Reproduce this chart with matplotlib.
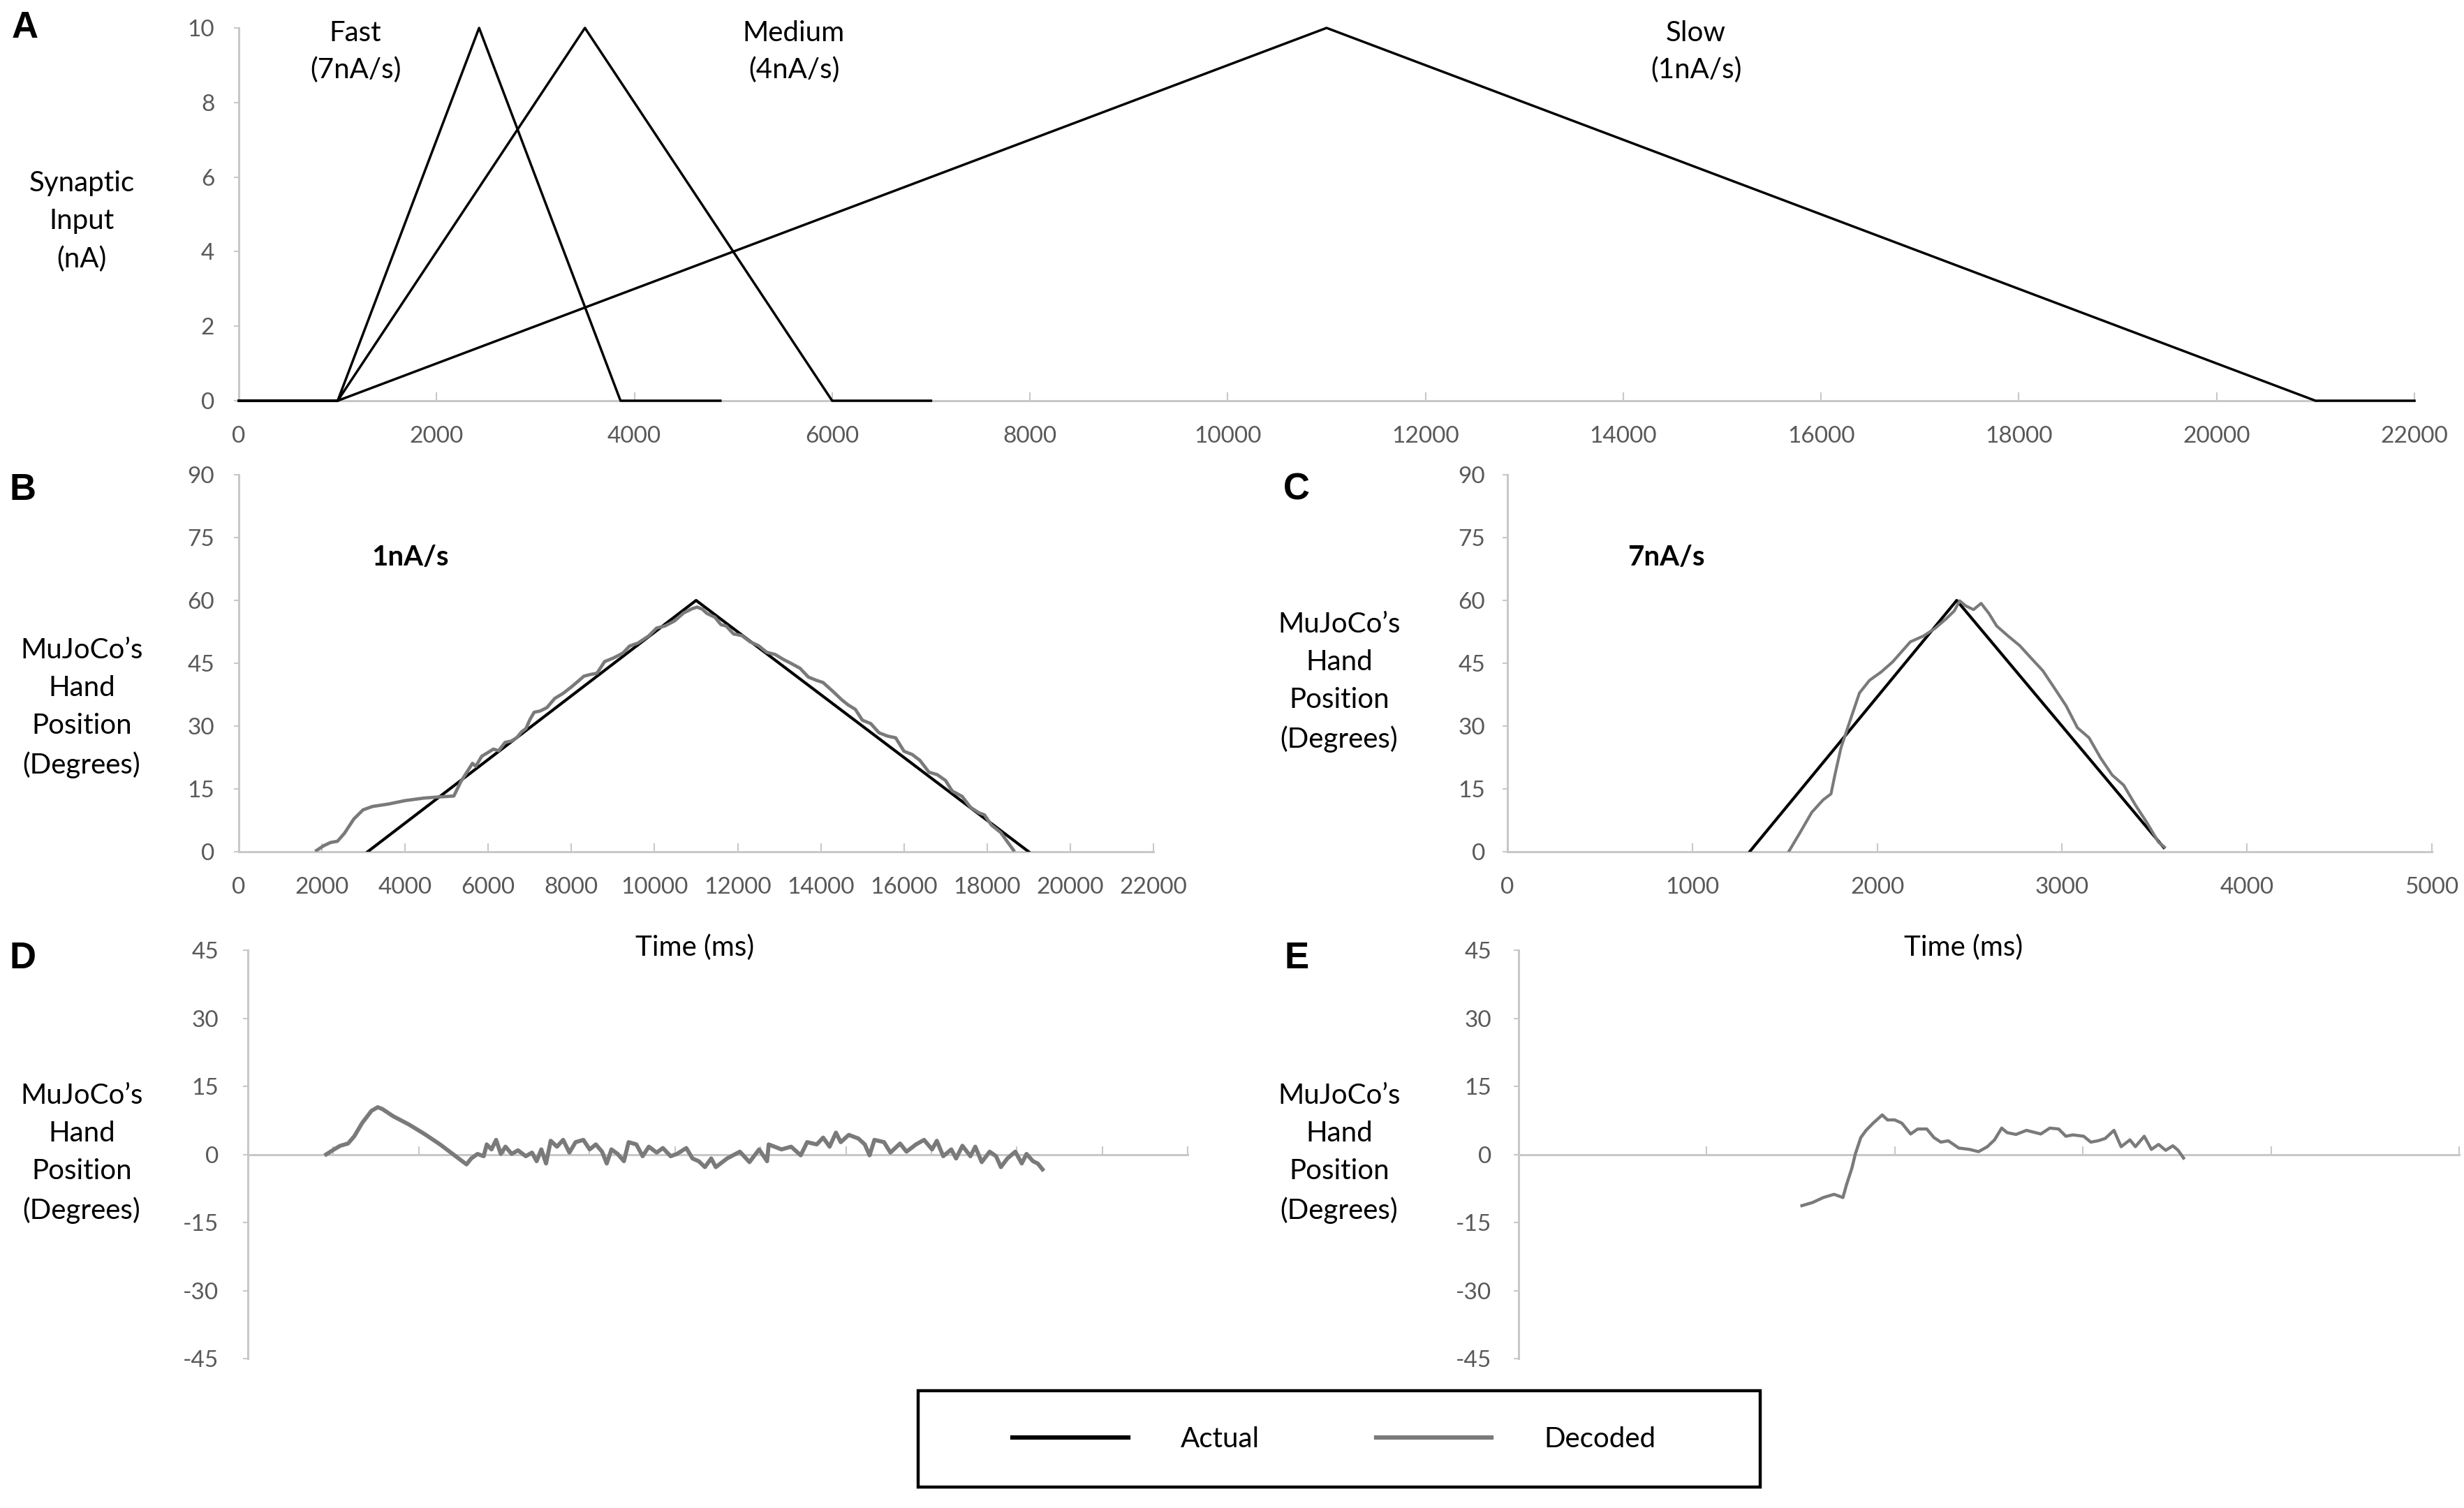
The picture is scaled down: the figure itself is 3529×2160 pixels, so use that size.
import numpy as np
import matplotlib
matplotlib.use("Agg")
import matplotlib.pyplot as plt
from matplotlib.lines import Line2D
from matplotlib.patches import Rectangle

plt.rcParams["font.family"] = ["Lato", "DejaVu Sans"]
plt.rcParams["axes.unicode_minus"] = False

# ---- data ----
# A: synaptic input ramps (ms, nA)
fast_t = [0, 1000, 2430, 3860, 4870]
fast_v = [0, 0, 10, 0, 0]
medium_t = [0, 1000, 3500, 6000, 7000]
medium_v = [0, 0, 10, 0, 0]
slow_t = [0, 1000, 11000, 21000, 22000]
slow_v = [0, 0, 10, 0, 0]

# B: 1nA/s hand position (ms, degrees)
b_actual_t = [3100, 11000, 19000]
b_actual_v = [0, 60, 0]
b_dec_t = [1870, 2037, 2205, 2373, 2541, 2766, 2989, 3213, 3606, 3997, 4445, 4837,
           5173, 5340, 5480, 5621, 5700, 5844, 5980, 6125, 6250, 6404, 6550, 6684,
           6800, 6907, 7000, 7104, 7250, 7411, 7600, 7800, 7994, 8150, 8300, 8450,
           8615, 8800, 9000, 9237, 9400, 9600, 9858, 10050, 10250, 10480, 10700,
           10900, 11024, 11150, 11257, 11450, 11600, 11722, 11900, 12100, 12300,
           12500, 12700, 12900, 13100, 13278, 13500, 13700, 13900, 14053, 14300,
           14500, 14650, 14829, 15000, 15200, 15400, 15607, 15800, 16000, 16200,
           16385, 16600, 16800, 17000, 17160, 17400, 17600, 17800, 17936, 18100,
           18326, 18500, 18636]
b_dec_v = [0.3, 1.4, 2.2, 2.5, 4.4, 7.8, 10.0, 10.8, 11.4, 12.2, 12.8, 13.1,
           13.3, 16.7, 18.9, 21.1, 20.4, 22.8, 23.6, 24.5, 24.1, 26.1, 26.4, 27.2,
           28.6, 29.4, 31.5, 33.3, 33.6, 34.4, 36.6, 37.8, 39.3, 40.6, 41.9, 42.3,
           42.6, 45.4, 46.2, 47.4, 49.1, 49.8, 51.5, 53.4, 53.9, 55.1, 57.0,
           58.0, 58.4, 57.9, 56.9, 56.0, 54.2, 53.9, 52.0, 51.6, 50.1,
           49.2, 47.6, 47.1, 45.9, 45.0, 43.8, 41.7, 40.9, 40.4, 38.2,
           36.3, 35.1, 34.0, 31.4, 30.6, 28.4, 27.6, 27.2, 24.0, 23.2,
           21.8, 19.0, 18.4, 17.0, 14.5, 13.2, 10.6, 9.3, 8.8, 6.4,
           4.6, 2.2, 0.35]

# C: 7nA/s hand position (ms, degrees)
c_actual_t = [1310, 2430, 3550]
c_actual_v = [0, 60, 1]
c_dec_t = [1521, 1583, 1646, 1708, 1750, 1771, 1804, 1854, 1904, 1958, 2021, 2083,
           2125, 2179, 2250, 2312, 2375, 2417, 2446, 2479, 2521, 2562, 2604, 2646,
           2708, 2771, 2833, 2896, 2958, 3021, 3083, 3146, 3208, 3271, 3333, 3396,
           3458, 3521, 3554]
c_dec_v = [0, 4.6, 9.4, 12.4, 13.8, 18.3, 24.8, 31.4, 37.9, 40.9, 42.9, 45.3,
           47.4, 50.1, 51.5, 53.3, 55.7, 57.5, 59.9, 58.7, 57.8, 59.3, 56.9, 53.9,
           51.5, 49.2, 46.2, 43.2, 39.1, 34.9, 29.6, 27.2, 22.4, 18.3, 15.9, 11.2,
           7.0, 2.3, 1.1]

# D: error for 1nA/s (ms, degrees)
d_t = [1834, 2017, 2163, 2345, 2491, 2674, 2893, 3040, 3148, 3403, 3768, 4134,
       4499, 4864, 5118, 5228, 5375, 5520, 5592, 5702, 5811, 5921, 6030, 6177,
       6323, 6505, 6651, 6760, 6870, 6980, 7089, 7235, 7381, 7526, 7672, 7854,
       8001, 8146, 8291, 8401, 8511, 8656, 8803, 8913, 9094, 9241, 9386, 9570,
       9715, 9897, 10044, 10263, 10408, 10554, 10699, 10846, 10954, 11065, 11217,
       11517, 11742, 11968, 12154, 12192, 12492, 12717, 12942, 13092, 13317,
       13467, 13618, 13766, 13879, 14067, 14292, 14441, 14554, 14667, 14892,
       15041, 15267, 15418, 15641, 15829, 16017, 16128, 16278, 16466, 16579,
       16727, 16915, 17028, 17179, 17365, 17515, 17628, 17779, 17965, 18116,
       18228, 18379, 18490, 18602]
d_v = [0, 1.1, 1.9, 2.4, 4.0, 6.9, 9.6, 10.4, 10.0, 8.4, 6.6, 4.5,
       2.2, -0.4, -2.2, -0.9, 0.1, -0.4, 2.2, 1.1, 3.2, 0.1, 1.7, 0.1,
       0.9, -0.4, 0.4, -1.5, 1.1, -2.0, 3.0, 1.7, 3.2, 0.4, 2.7, 3.2,
       1.1, 2.2, 0.6, -2.0, 1.1, 0.1, -1.5, 2.7, 2.2, -0.4, 1.7, 0.4,
       1.4, -0.4, 0.1, 1.4, -0.9, -1.5, -2.8, -0.9, -2.8, -2.0, -0.9,
       0.6, -1.7, 1.1, -1.5, 2.2, 1.1, 1.7, -0.2, 2.7, 2.2,
       3.7, 1.7, 4.8, 2.7, 4.3, 3.5, 2.2, -0.2, 3.2, 2.7,
       0.4, 2.4, 0.6, 2.2, 3.2, 1.1, 3.0, -0.4, 1.1, -0.9,
       1.9, -0.4, 1.7, -1.7, 0.6, -0.4, -2.8, -0.9, 0.6, -2.0,
       0.1, -1.5, -2.0, -3.3]

# E: error for 7nA/s (ms, degrees)
e_t = [1506, 1563, 1620, 1677, 1724, 1743, 1772, 1790, 1819, 1847, 1885, 1933,
       1961, 1999, 2037, 2084, 2122, 2170, 2208, 2245, 2284, 2340, 2397, 2445,
       2492, 2530, 2568, 2597, 2644, 2700, 2738, 2776, 2824, 2871, 2909, 2947,
       3004, 3042, 3080, 3118, 3165, 3203, 3250, 3279, 3326, 3364, 3402, 3440,
       3478, 3506, 3535]
e_v = [-11.3, -10.6, -9.5, -8.8, -9.5, -6.7, -3.0, 0.1, 3.7, 5.3, 6.9, 8.7,
       7.6, 7.6, 6.9, 4.5, 5.6, 5.6, 3.7, 2.7, 3.0, 1.4, 1.1, 0.6,
       1.7, 3.2, 5.8, 4.8, 4.4, 5.3, 4.9, 4.5, 5.8, 5.6, 4.0, 4.3,
       4.0, 2.7, 3.0, 3.5, 5.3, 1.7, 3.2, 1.7, 4.0, 1.1, 2.2, 0.9,
       1.9, 0.9, -0.8]

axis_gray = "#c8c8c8"
tick_gray = "#595959"
line_gray = "#7a7a7a"
tick_fs = 24
label_fs = 29
lab_ls = 1.57

fig = plt.figure(figsize=(35.3, 21.6), dpi=100)


def style(ax, ypad, xpad=26, xlabels=True):
    for s in ["top", "right"]:
        ax.spines[s].set_visible(False)
    for s in ["left", "bottom"]:
        ax.spines[s].set_color(axis_gray)
        ax.spines[s].set_linewidth(2.2)
    ax.tick_params(axis="y", direction="out", length=5, width=1.5, color=axis_gray,
                   labelcolor=tick_gray, labelsize=tick_fs, pad=ypad)
    ax.tick_params(axis="x", direction="in", length=9, width=1.5, color=axis_gray,
                   labelcolor=tick_gray, labelsize=tick_fs, pad=xpad,
                   labelbottom=xlabels)


# ---- A ----
axA = fig.add_axes([0.09688, 0.73426, 0.88272, 0.24722])
for tt, vv in [(fast_t, fast_v), (medium_t, medium_v), (slow_t, slow_v)]:
    axA.plot(tt, vv, color="black", lw=2.5, zorder=3, clip_on=False)
axA.set_xlim(0, 22000)
axA.set_ylim(0, 10)
axA.set_xticks(np.arange(0, 22001, 2000))
axA.set_yticks(np.arange(0, 11, 2))
style(axA, ypad=20)
for txt, x in [("Fast\n(7nA/s)", 1179), ("Medium\n(4nA/s)", 5613), ("Slow\n(1nA/s)", 14735)]:
    axA.text(x, 9.36, txt, ha="center", va="center", fontsize=label_fs, linespacing=1.5)

# ---- B ----
axB = fig.add_axes([0.09688, 0.43519, 0.37110, 0.25])
axB.plot(b_actual_t, b_actual_v, color="black", lw=3.0, zorder=3)
axB.plot(b_dec_t, b_dec_v, color=line_gray, lw=3.4, zorder=3)
axB.set_xlim(0, 22000)
axB.set_ylim(0, 90)
axB.set_xticks(np.arange(0, 22001, 2000))
axB.set_yticks(np.arange(0, 91, 15))
style(axB, ypad=20)
axB.text(4131, 70.2, "1nA/s", ha="center", va="center", fontsize=label_fs, fontweight="bold")

# ---- C ----
axC = fig.add_axes([0.61161, 0.43519, 0.37507, 0.25])
axC.plot(c_actual_t, c_actual_v, color="black", lw=3.0, zorder=3)
axC.plot(c_dec_t, c_dec_v, color=line_gray, lw=3.0, zorder=3)
axC.set_xlim(0, 5000)
axC.set_ylim(0, 90)
axC.set_xticks(np.arange(0, 5001, 1000))
axC.set_yticks(np.arange(0, 91, 15))
style(axC, ypad=18)
axC.text(857, 70.2, "7nA/s", ha="center", va="center", fontsize=label_fs, fontweight="bold")

# ---- D ----
axD = fig.add_axes([0.10057, 0.09907, 0.38130, 0.27083])
axD.plot(d_t, d_v, color=line_gray, lw=4.2, zorder=3)
axD.set_xlim(0, 22000)
axD.set_ylim(-45, 45)
axD.set_xticks(np.arange(0, 22001, 2000))
axD.set_yticks(np.arange(-45, 46, 15))
style(axD, ypad=25, xlabels=False)
axD.spines["bottom"].set_position(("data", 0))

# ---- E ----
axE = fig.add_axes([0.61615, 0.09907, 0.38159, 0.27083])
axE.plot(e_t, e_v, color=line_gray, lw=3.2, zorder=3)
axE.set_xlim(0, 5000)
axE.set_ylim(-45, 45)
axE.set_xticks(np.arange(0, 5001, 1000))
axE.set_yticks(np.arange(-45, 46, 15))
style(axE, ypad=23, xlabels=False)
axE.spines["bottom"].set_position(("data", 0))

# ---- labels ----
ylab = "MuJoCo\u2019s\nHand\nPosition\n(Degrees)"
fig.text(0.0331, 0.8532, "Synaptic\nInput\n(nA)", ha="center", va="center",
         fontsize=label_fs, linespacing=lab_ls)
for x, y in [(0.0331, 0.5305), (0.5433, 0.5477), (0.0331, 0.2352), (0.5433, 0.2352)]:
    fig.text(x, y, ylab, ha="center", va="center", fontsize=label_fs, linespacing=lab_ls)
fig.text(0.2819, 0.3718, "Time (ms)", ha="center", va="center", fontsize=label_fs)
fig.text(0.7966, 0.3718, "Time (ms)", ha="center", va="center", fontsize=label_fs)

for letter, x, y in [("A", 0.0102, 0.9815), ("B", 0.0091, 0.675), ("C", 0.526, 0.675),
                     ("D", 0.0091, 0.3644), ("E", 0.526, 0.3644)]:
    fig.text(x, y, letter, ha="center", va="center", fontsize=38, fontweight="bold",
             family=["Liberation Sans", "DejaVu Sans"])

# ---- legend ----
handles = [Line2D([], [], color="black", lw=4.5), Line2D([], [], color=line_gray, lw=4.5)]
fig.legend(handles, ["Actual", "Decoded"], loc="center", bbox_to_anchor=(0.5414, 0.0454),
           ncol=2, frameon=False, fontsize=label_fs, handlelength=4.1, handletextpad=1.87,
           columnspacing=4.15, borderpad=0)
fig.patches.append(Rectangle((0.3725, 0.0139), 0.3416, 0.0639, transform=fig.transFigure,
                             fill=False, edgecolor="black", linewidth=3.2))

fig.savefig("out.png", dpi=100)
